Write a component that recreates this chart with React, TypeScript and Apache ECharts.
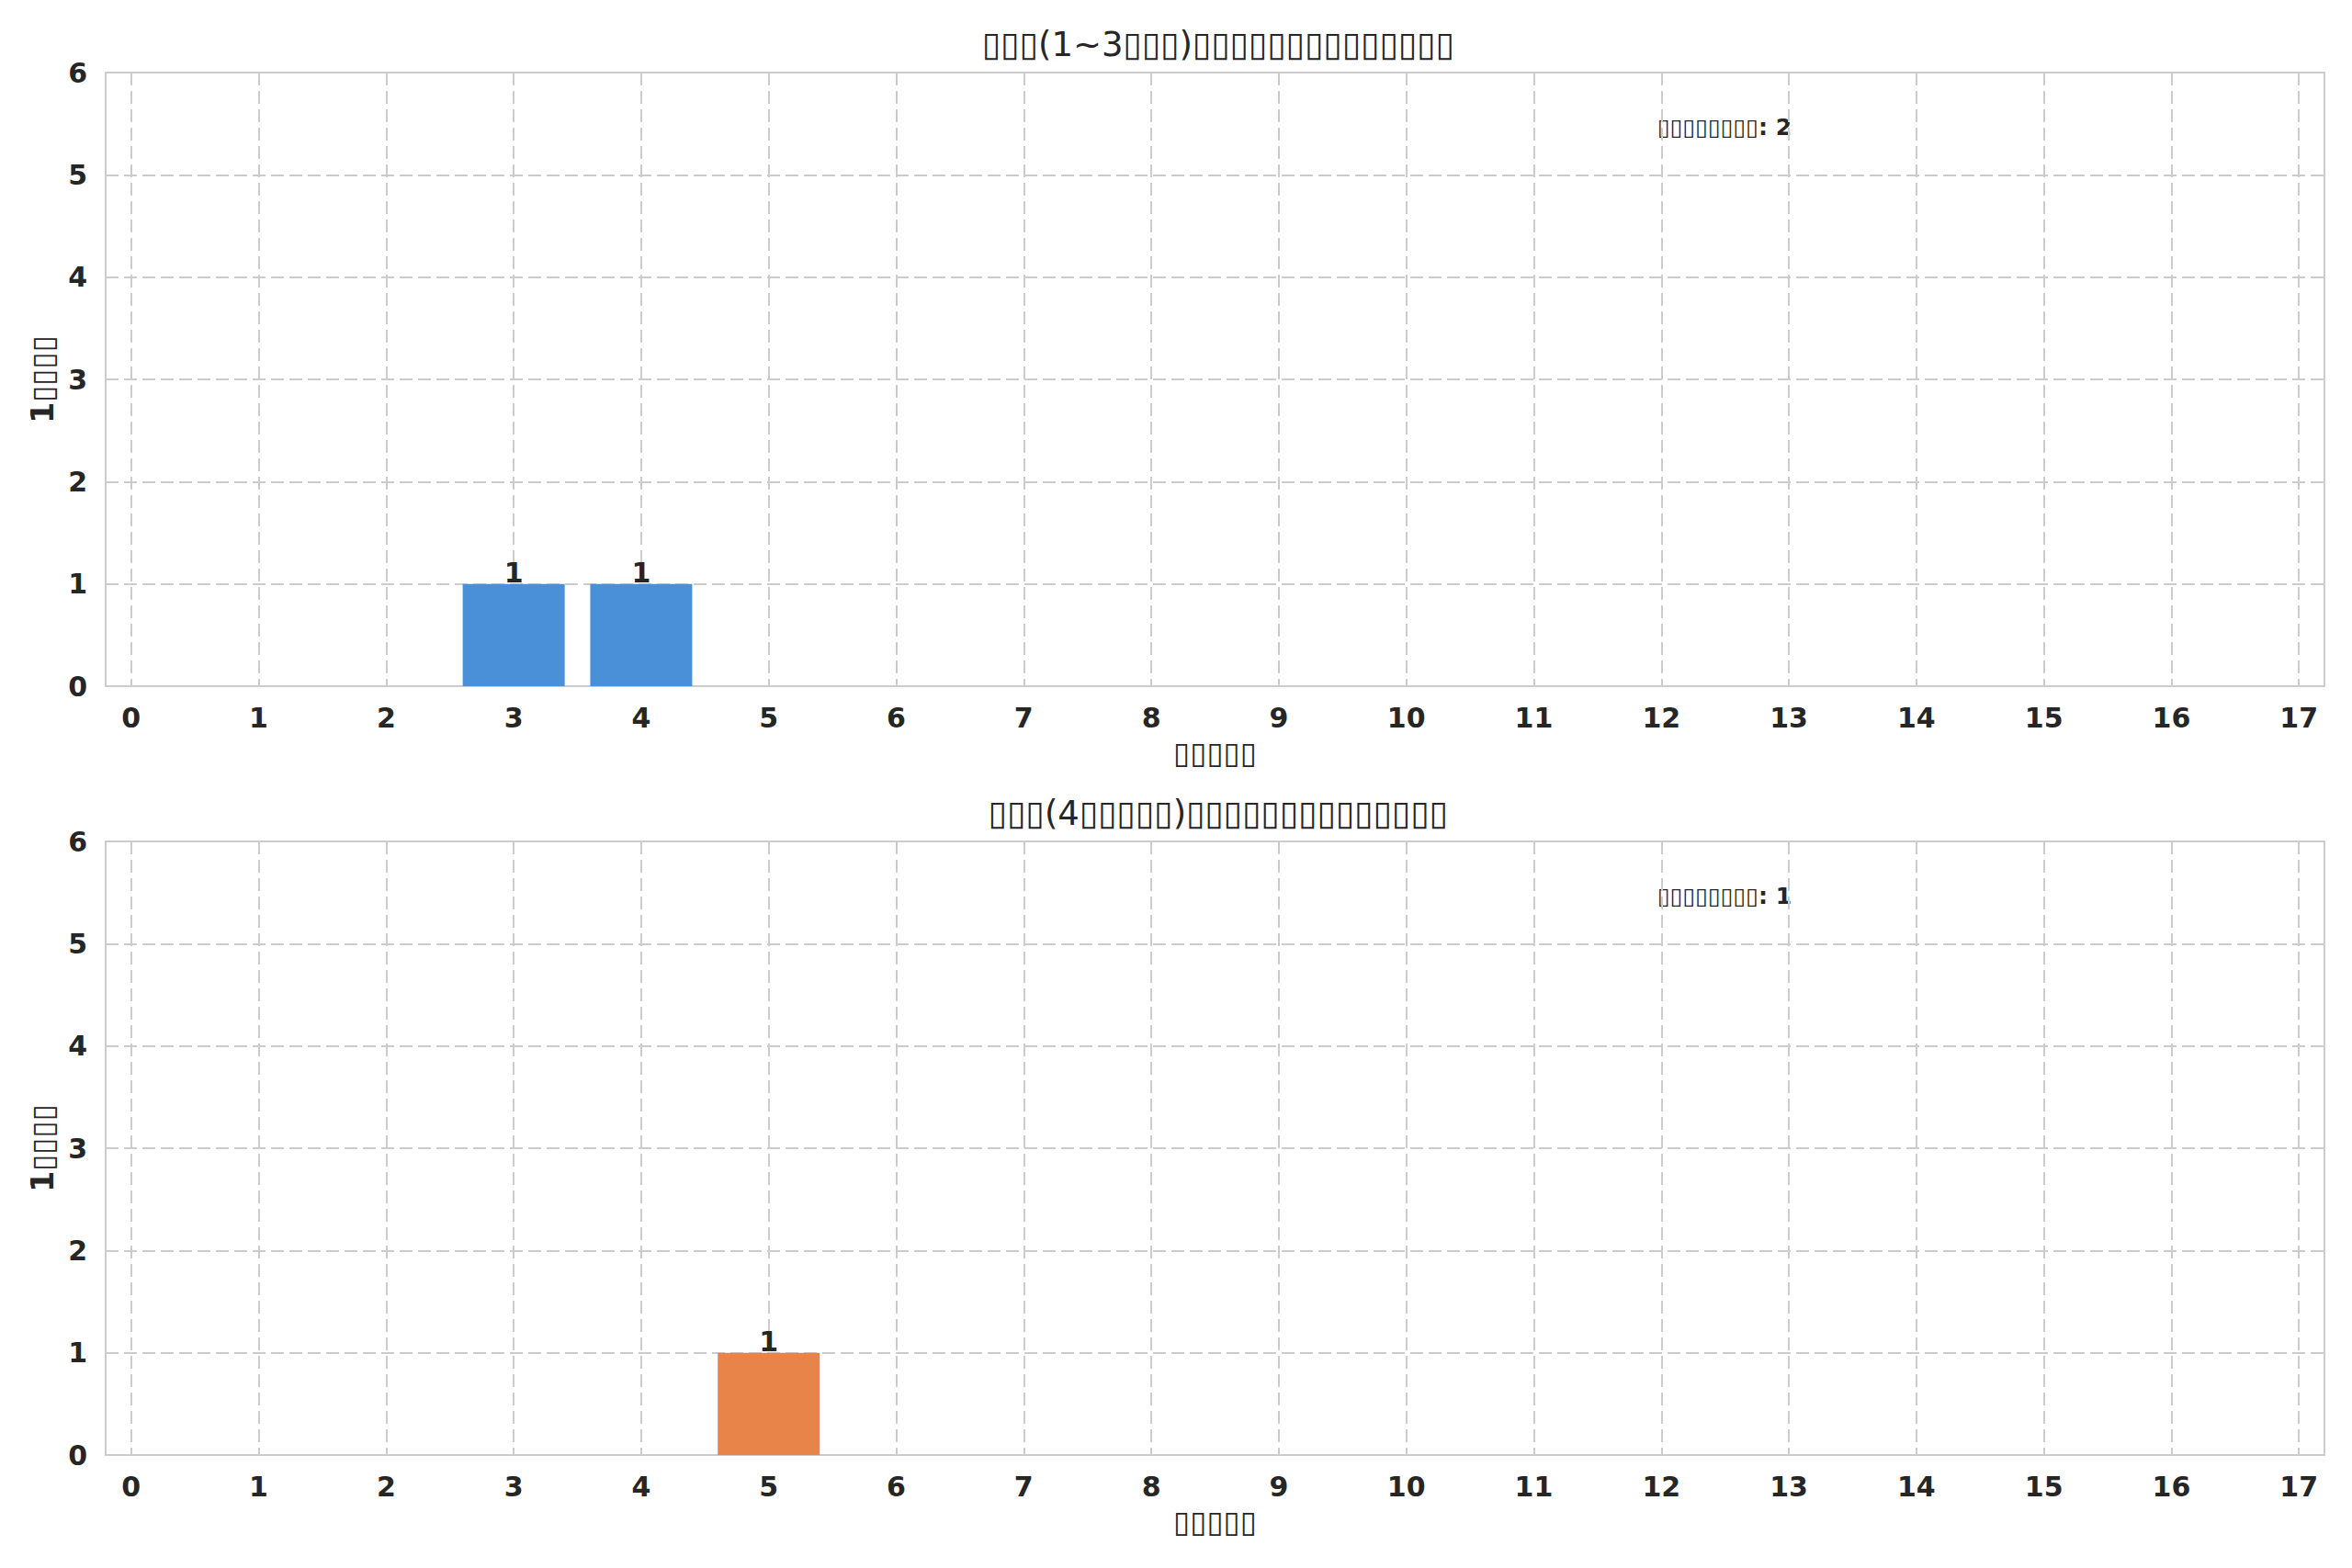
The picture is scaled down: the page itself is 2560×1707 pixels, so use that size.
import React, { useEffect, useRef } from "react";
import * as echarts from "echarts";

// ---- data ----
const days = [0, 1, 2, 3, 4, 5, 6, 7, 8, 9, 10, 11, 12, 13, 14, 15, 16, 17];
const shortCounts = [0, 0, 0, 1, 1, 0, 0, 0, 0, 0, 0, 0, 0, 0, 0, 0, 0, 0];
const longCounts = [0, 0, 0, 0, 0, 1, 0, 0, 0, 0, 0, 0, 0, 0, 0, 0, 0, 0];
const yTickMax = 6;
const title1 = "▯▯▯(1~3▯▯▯)▯▯▯▯▯▯▯▯▯▯▯▯▯▯";
const title2 = "▯▯▯(4▯▯▯▯▯)▯▯▯▯▯▯▯▯▯▯▯▯▯▯";
const xName = "▯▯▯▯▯";
const yName = "1▯▯▯▯";
const totalLabel = "▯▯▯▯▯▯▯▯";

const FONT = "DejaVu Sans";
const TXT = "#262626";
const GRIDC = "#cccccc";

export default function App() {
  const ref = useRef<HTMLDivElement>(null);
  useEffect(() => {
    const chart = echarts.init(ref.current!, null, { renderer: "svg" });
    const grids = [
      { left: 115, width: 2415, top: 79, height: 668 },
      { left: 115, width: 2415, top: 916, height: 668 },
    ];
    const xAxis = grids.map((_, i) => ({
      type: "value",
      gridIndex: i,
      min: -0.2,
      max: 17.2,
      splitNumber: 17,
      minInterval: 1,
      maxInterval: 1,
      name: xName,
      nameLocation: "middle",
      nameGap: 56,
      nameTextStyle: { fontFamily: FONT, fontSize: 33, fontWeight: "bold", color: TXT },
      axisLine: { show: false },
      axisTick: { show: false },
      axisLabel: {
        showMinLabel: false,
        showMaxLabel: false,
        fontFamily: FONT,
        fontSize: 30,
        fontWeight: "bold",
        color: TXT,
        margin: 19,
      },
      splitLine: { show: true, lineStyle: { color: GRIDC, width: 2, type: [14, 6] } },
    }));
    const yAxis = grids.map((_, i) => ({
      type: "value",
      gridIndex: i,
      min: 0,
      max: yTickMax,
      interval: 1,
      name: yName,
      nameLocation: "middle",
      nameGap: 50,
      nameTextStyle: { fontFamily: FONT, fontSize: 33, fontWeight: "bold", color: TXT },
      axisLine: { show: false },
      axisTick: { show: false },
      axisLabel: { fontFamily: FONT, fontSize: 30, fontWeight: "bold", color: TXT, margin: 20 },
      splitLine: { show: true, lineStyle: { color: GRIDC, width: 2, type: [14, 6] } },
    }));
    const mkSeries = (vals: number[], color: string, idx: number) => ({
      type: "bar",
      xAxisIndex: idx,
      yAxisIndex: idx,
      barWidth: 111,
      data: days.map((d, k) => [d, vals[k]]),
      itemStyle: { color },
      label: {
        show: true,
        position: "top",
        distance: -3,
        fontFamily: FONT,
        fontSize: 30,
        fontWeight: "bold",
        color: TXT,
        formatter: (p: any) => (p.value[1] > 0 ? String(p.value[1]) : ""),
      },
    });
    const sum = (a: number[]) => a.reduce((s, v) => s + v, 0);
    chart.setOption({
      animation: false,
      backgroundColor: "#ffffff",
      title: [
        {
          text: title1,
          left: 1321,
          top: 25,
          textAlign: "center",
          textStyle: { fontFamily: FONT, fontSize: 37, fontWeight: "normal", color: TXT },
        },
        {
          text: title2,
          left: 1321,
          top: 862,
          textAlign: "center",
          textStyle: { fontFamily: FONT, fontSize: 37, fontWeight: "normal", color: TXT },
        },
      ],
      grid: grids.map((g) => ({ ...g, show: true, borderColor: GRIDC, borderWidth: 2, backgroundColor: "#fff" })),
      xAxis,
      yAxis,
      series: [mkSeries(shortCounts, "#4a90d9", 0), mkSeries(longCounts, "#e8844a", 1)],
      graphic: [
        {
          type: "text",
          x: 1804,
          y: 138,
          style: {
            text: `${totalLabel}: ${sum(shortCounts)}`,
            fontFamily: FONT,
            fontSize: 25,
            fontWeight: "bold",
            fill: TXT,
            verticalAlign: "middle",
          },
        },
        {
          type: "text",
          x: 1804,
          y: 975,
          style: {
            text: `${totalLabel}: ${sum(longCounts)}`,
            fontFamily: FONT,
            fontSize: 25,
            fontWeight: "bold",
            fill: TXT,
            verticalAlign: "middle",
          },
        },
      ],
    });
    return () => chart.dispose();
  }, []);
  return (
    <div
      ref={ref}
      style={{ position: "absolute", left: 0, top: 0, width: 2560, height: 1707, background: "#fff" }}
    />
  );
}
